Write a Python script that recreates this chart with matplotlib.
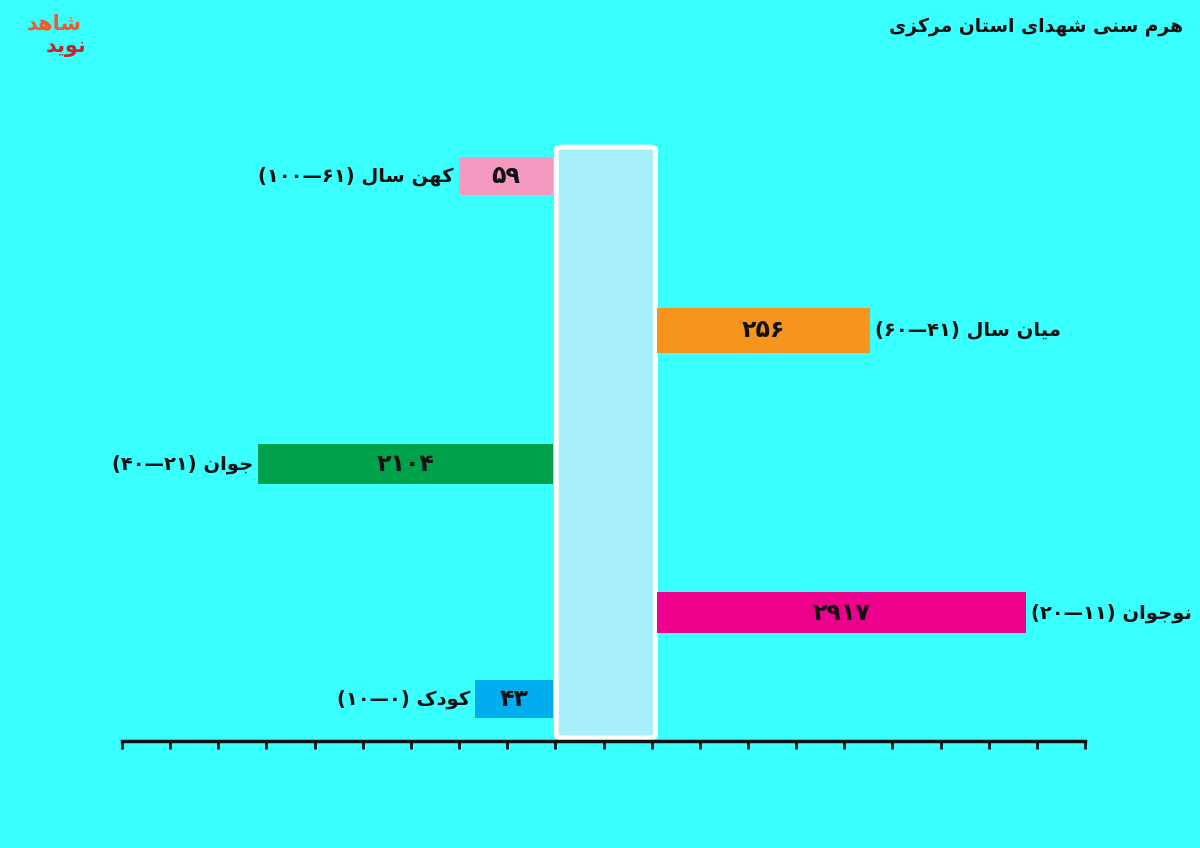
import matplotlib
matplotlib.use("Agg")
import matplotlib.pyplot as plt
from matplotlib.patches import FancyBboxPatch

# data, top row first
groups = ["کهن سال", "میان سال", "جوان", "نوجوان", "کودک"]
age_low = [61, 41, 21, 11, 0]
age_high = [100, 60, 40, 20, 10]
counts = [59, 256, 2104, 2917, 43]
# drawn bar lengths (in tick steps) - the source chart is not to scale
bar_len = [1.97, 4.41, 6.13, 7.65, 1.62]
sides = [-1, 1, -1, 1, -1]
colors = ["#F49AC1", "#F7941D", "#00A14B", "#EC008C", "#00AEEF"]
title = "هرم سنی شهدای استان مرکزی"

BG = "#3AFFFF"

# minimal arabic shaping: isolated, final, initial, medial
FORMS = {
    "ا": ("\uFE8D", "\uFE8E", None, None),
    "ت": ("\uFE95", "\uFE96", "\uFE97", "\uFE98"),
    "ج": ("\uFE9D", "\uFE9E", "\uFE9F", "\uFEA0"),
    "د": ("\uFEA9", "\uFEAA", None, None),
    "ر": ("\uFEAD", "\uFEAE", None, None),
    "ز": ("\uFEAF", "\uFEB0", None, None),
    "س": ("\uFEB1", "\uFEB2", "\uFEB3", "\uFEB4"),
    "ش": ("\uFEB5", "\uFEB6", "\uFEB7", "\uFEB8"),
    "ل": ("\uFEDD", "\uFEDE", "\uFEDF", "\uFEE0"),
    "م": ("\uFEE1", "\uFEE2", "\uFEE3", "\uFEE4"),
    "ن": ("\uFEE5", "\uFEE6", "\uFEE7", "\uFEE8"),
    "ه": ("\uFEE9", "\uFEEA", "\uFEEB", "\uFEEC"),
    "و": ("\uFEED", "\uFEEE", None, None),
    "ی": ("\uFBFC", "\uFBFD", "\uFBFE", "\uFBFF"),
    "ک": ("\uFB8E", "\uFB8F", "\uFB90", "\uFB91"),
}


def shape(text):
    out = []
    for i, ch in enumerate(text):
        if ch not in FORMS:
            out.append(ch)
            continue
        prev = text[i - 1] if i > 0 else ""
        nxt = text[i + 1] if i + 1 < len(text) else ""
        iso, fin, ini, med = FORMS[ch]
        jp = prev in FORMS and FORMS[prev][2] is not None
        jn = nxt in FORMS and ini is not None
        if jp and jn:
            out.append(med)
        elif jp:
            out.append(fin)
        elif jn:
            out.append(ini)
        else:
            out.append(iso)
    return "".join(reversed(out))


def fa(n):
    return str(n).translate(str.maketrans("0123456789", "۰۱۲۳۴۵۶۷۸۹"))


plt.rcParams["font.family"] = ["DejaVu Sans"]
plt.rcParams["font.weight"] = "bold"

fig = plt.figure(figsize=(12, 8.48), dpi=100, facecolor=BG)
ax = fig.add_axes([0.1017, 0.1262, 0.8025, 0.7075], facecolor="none")
ax.set_xlim(-10, 10)
ax.set_ylim(0, 600)

row_y = [565, 411, 277, 128, 42]
row_h = [38, 45, 41, 41, 38]

# central box
box = FancyBboxPatch((-0.98, 3), 2.06, 591, boxstyle="round,pad=0,rounding_size=0.12",
                     facecolor="#A8F1FA", edgecolor="white", linewidth=3.5,
                     mutation_aspect=25, zorder=1)
ax.add_patch(box)

for i in range(len(groups)):
    s = sides[i]
    start = -1.04 if s < 0 else 1.12
    ax.barh(row_y[i], s * bar_len[i], left=start, height=row_h[i],
            color=colors[i], zorder=2)
    ax.text(start + s * bar_len[i] / 2, row_y[i], fa(counts[i]), ha="center",
            va="center", fontsize=17, color="#111111", zorder=3)
    label = "(" + fa(age_high[i]) + "—" + fa(age_low[i]) + ") " + shape(groups[i])
    ax.text(start + s * (bar_len[i] + 0.1), row_y[i], label,
            ha="right" if s < 0 else "left", va="center", fontsize=14,
            color="#111111", clip_on=False, zorder=3)

ax.set_xticks(range(-10, 11))
ax.set_yticks([])
ax.tick_params(axis="x", direction="out", length=6, width=2, labelbottom=False,
               color="#111111")
for side in ["top", "left", "right"]:
    ax.spines[side].set_visible(False)
ax.spines["bottom"].set_linewidth(2.5)
ax.spines["bottom"].set_color("#111111")

fig.text(0.986, 0.969, shape(title), ha="right", va="center", fontsize=13.5,
         color="#111111")
fig.text(0.045, 0.972, shape("شاهد"), ha="center", va="center", fontsize=15,
         color="#F15A29")
fig.text(0.055, 0.945, shape("نوید"), ha="center", va="center", fontsize=15,
         color="#C1272D")

fig.savefig("out.png", dpi=100, facecolor=BG)
